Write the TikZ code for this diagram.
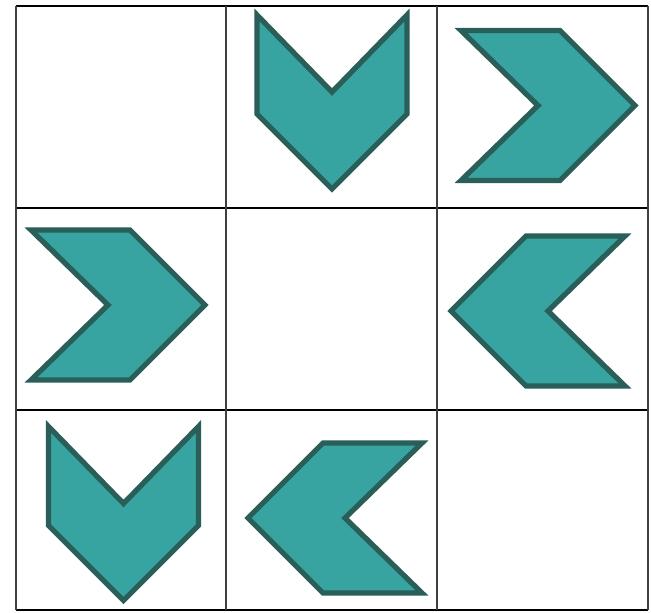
\documentclass[tikz,border=0pt]{standalone}
\usepackage{tikz}
\usepackage{xcolor}
\definecolor{tealfill}{RGB}{56,164,161}
\definecolor{tealedge}{RGB}{42,94,88}

\begin{document}
\begin{tikzpicture}[
  x=0.02cm,y=-0.02cm,
  chev/.style={draw=tealedge,fill=tealfill,line width=3pt,line join=miter},
  hline/.style={black,line width=1.1pt},
  vline/.style={black!75,line width=0.9pt}
]
\useasboundingbox (0,0) rectangle (651,612);
% grid
\foreach \y in {6,208,410,610} \draw[hline] (16,\y) -- (648,\y);
\foreach \x in {16,226,437,648} \draw[vline] (\x,6) -- (\x,610);
% chevrons: centre x / centre y / angle
\foreach \cx/\cy/\ang in {332/102/-90, 548/105.5/0, 118/305/0,
                          538/311/180, 123.5/513.5/-90, 335/518/180}
  \draw[chev,shift={(\cx,\cy)},rotate=\ang]
    (-87,-75) -- (12,-75) -- (87,0) -- (12,75) -- (-87,75) -- (-10,0) -- cycle;
\end{tikzpicture}
\end{document}
